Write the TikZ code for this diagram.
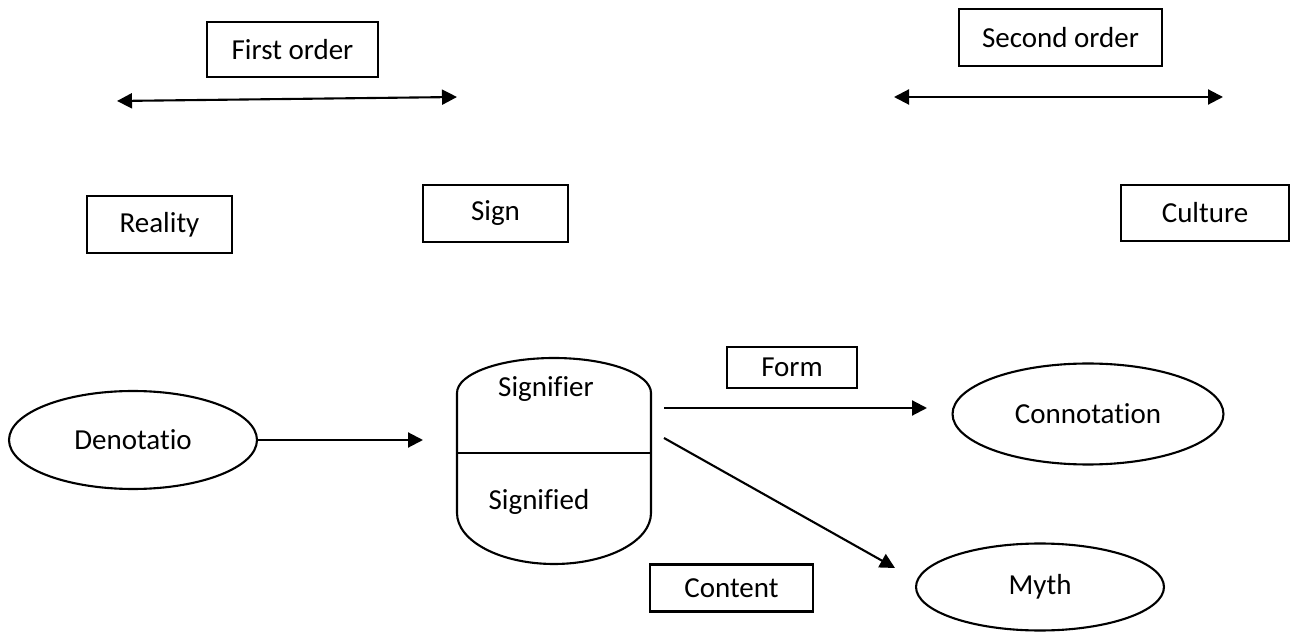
\documentclass[tikz,border=0pt]{standalone}
\usepackage{fontspec}
\setmainfont{Carlito}[Ligatures=CommonOff]
\usetikzlibrary{arrows.meta}
\usetikzlibrary{shapes.geometric}

\begin{document}
\begin{tikzpicture}[x=0.02cm, y=0.02cm, font=\fontsize{16.5}{20}\selectfont,
  box/.style={draw, rectangle, line width=1.2pt, inner sep=0pt},
  oval/.style={draw, ellipse, line width=1.2pt, inner sep=0pt},
  link/.style={line width=1.2pt, -{Triangle[length=0.3cm, width=0.3cm]}},
  both/.style={line width=1.2pt, {Triangle[length=0.3cm, width=0.3cm]}-{Triangle[length=0.3cm, width=0.3cm]}}]
  \useasboundingbox (0,0) rectangle (1291,-634);
  % top row
  \node[box, minimum width=3.42cm, minimum height=1.10cm] (fo) at (292.5,-49.5) {First order};
  \node[box, minimum width=4.06cm, minimum height=1.14cm] (so) at (1060.5,-37.5) {Second order};
  \coordinate (fo-l) at (117,-101);
  \coordinate (fo-r) at (457,-97);
  \coordinate (so-l) at (894,-97);
  \coordinate (so-r) at (1223,-97);
  \draw[both] (fo-l) -- (fo-r);
  \draw[both] (so-l) -- (so-r);
  \node[box, minimum width=2.90cm, minimum height=1.14cm] (real) at (159.5,-224.5) {Reality};
  \node[box, minimum width=2.90cm, minimum height=1.14cm] (sign) at (495.5,-213.5) {Sign};
  \node[box, minimum width=3.36cm, minimum height=1.12cm] (cult) at (1205,-213) {Culture};
  % signifier / signified
  \draw[line width=1.2pt] (457,-513) -- (457,-393)
    arc[start angle=180, end angle=0, x radius=97, y radius=35]
    -- (651,-513)
    arc[start angle=0, end angle=-180, x radius=97, y radius=51] -- cycle;
  \draw[line width=1.2pt] (457,-453) -- (651,-453);
  \node (sr) at (546,-389) {Signifier};
  \node (sd) at (539,-502) {Signified};
  % ovals
  \node[oval, minimum width=4.96cm, minimum height=1.96cm] (den) at (133,-440) {Denotatio};
  \node[oval, minimum width=5.42cm, minimum height=2.02cm] (con) at (1088,-414) {Connotation};
  \node[oval, minimum width=4.96cm, minimum height=1.74cm] (myth) at (1040,-587) {Myth};
  \node[box, minimum width=2.60cm, minimum height=0.82cm] (form) at (792,-367.5) {Form};
  \node[box, minimum width=3.26cm, minimum height=0.94cm] (cont) at (731.5,-588) {Content};
  % arrows
  \coordinate (den-in) at (423,-440);
  \coordinate (form-a) at (664,-408);
  \coordinate (form-b) at (927,-408);
  \coordinate (myth-a) at (664,-438);
  \coordinate (myth-b) at (895,-568);
  \draw[link] (den) -- (den-in);
  \draw[link] (form-a) -- (form-b);
  \draw[link] (myth-a) -- (myth-b);
\end{tikzpicture}
\end{document}
